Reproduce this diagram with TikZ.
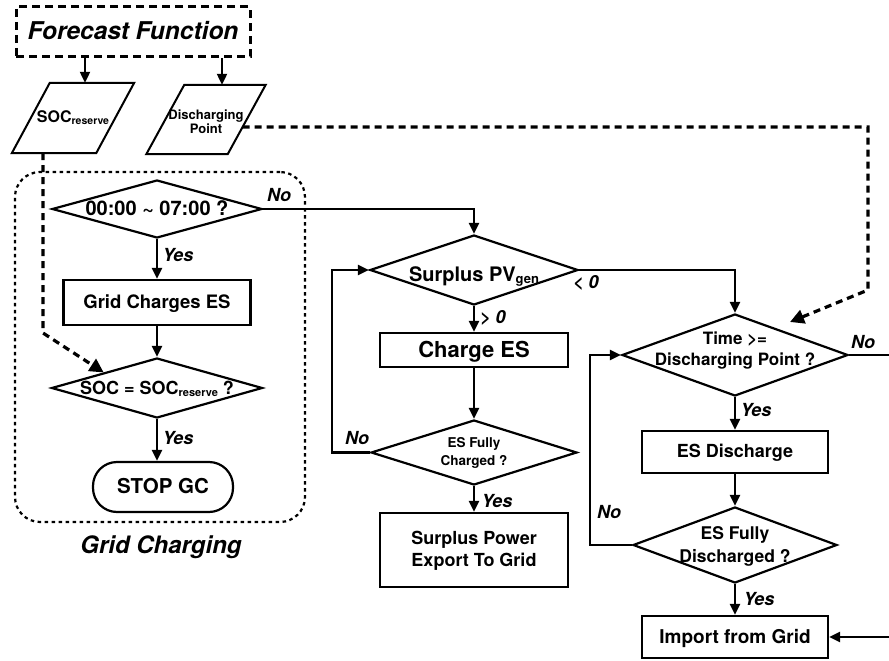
\documentclass[tikz,border=0pt]{standalone}
\usepackage{fontspec}
\setmainfont{TeX Gyre Heros}
\usetikzlibrary{arrows.meta,shapes.geometric,calc}

% centred text of zero size, so that every shape keeps exactly its given size
\newcommand\ctr[2][-0.34em]{\makebox[0pt]{\smash{\raisebox{#1}{\begin{tabular}{@{}c@{}}#2\end{tabular}}}}}
% lowered small index, as in SOC_reserve
\newcommand\lowsub[2][11]{{\fontsize{#1}{#1}\selectfont\raisebox{-2pt}{#2}}}
\newcommand\fs[1]{\fontsize{#1}{#1}\selectfont}

\begin{document}
\begin{tikzpicture}[x=1pt,y=-1pt,
  every node/.style={inner sep=0pt, font=\fontsize{18}{22}\selectfont\bfseries},
  box/.style={draw, rectangle, line width=2.2pt},
  dec/.style={draw, diamond, line width=2.2pt},
  term/.style={draw, rectangle, rounded corners=24pt, line width=2.2pt},
  inout/.style={draw=none, rectangle},
  flow/.style={line width=2.2pt, -{Triangle[length=11pt,width=10pt]}},
  link/.style={line width=2.2pt},
  feed/.style={line width=3.2pt, dash pattern=on 7pt off 5pt, -{Triangle[length=14pt,width=14pt]}},
  lbl/.style={font=\fontsize{18}{18}\selectfont\bfseries\itshape},
]
\useasboundingbox (0,0) rectangle (889,661);

% ---------- grid charging group ----------
\node[draw, rounded corners=25pt, dash pattern=on 3.5pt off 3.5pt, line width=2.2pt,
      minimum width=290pt, minimum height=350pt] (gcz) at (160,347) {};
\node[font=\fs{24}\bfseries\itshape] (gclbl) at (161,547) {Grid Charging};

% ---------- forecast ----------
\node[box, minimum width=234pt, minimum height=50pt, dash pattern=on 8pt off 5pt,
      line width=3pt, font=\fs{24.5}\bfseries\itshape] (fc) at (133,32) {\ctr{Forecast Function}};

\node[inout, minimum width=84pt, minimum height=70pt, font=\fs{16}\bfseries] (socr) at (73,118)
  {\ctr{SOC\lowsub[10.5]{reserve}}};
\draw[line width=2pt] ([xshift=19pt]socr.north west) -- ([xshift=19pt]socr.north east)
  -- ([xshift=-19pt]socr.south east) -- ([xshift=-19pt]socr.south west) -- cycle;

\node[inout, minimum width=81pt, minimum height=69pt, font=\fontsize{13}{14}\selectfont\bfseries] (dp) at (206,119.5)
  {\ctr[-0.55em]{Discharging\\Point}};
\draw[line width=2pt] ([xshift=19pt]dp.north west) -- ([xshift=19pt]dp.north east)
  -- ([xshift=-19pt]dp.south east) -- ([xshift=-19pt]dp.south west) -- cycle;

% ---------- left column ----------
\node[dec, minimum width=210pt, minimum height=58pt, font=\fs{20}\bfseries] (d1) at (157,209)
  {\ctr{00:00 \textasciitilde{} 07:00 ?}};
\node[box, minimum width=187pt, minimum height=45pt, font=\fs{18.5}\bfseries] (b1) at (157,302.5) {\ctr{Grid Charges ES}};
\node[dec, minimum width=211pt, minimum height=60pt] (d2) at (157,388)
  {\ctr{SOC = SOC\lowsub{reserve} ?}};
\node[term, minimum width=140pt, minimum height=50pt, font=\fs{20.5}\bfseries] (stop) at (163,487) {\ctr{STOP GC}};

% ---------- middle column ----------
\node[dec, minimum width=208pt, minimum height=70pt, font=\fs{20}\bfseries] (d3) at (474,270)
  {\ctr[-0.6em]{Surplus PV\lowsub[13]{gen}}};
\node[box, minimum width=188pt, minimum height=34pt, font=\fs{22}\bfseries] (b2) at (474,350) {\ctr{Charge ES}};
\node[dec, minimum width=206pt, minimum height=65pt, font=\fontsize{13.5}{18}\selectfont\bfseries] (d4) at (474,452.5)
  {\ctr[-0.3em]{ES Fully\\Charged ?}};
\node[box, minimum width=188pt, minimum height=74pt] (b3) at (474,550)
  {\ctr[-0.3em]{Surplus Power\\Export To Grid}};

% ---------- right column ----------
\node[dec, minimum width=226pt, minimum height=82pt, font=\fontsize{17}{21}\selectfont\bfseries] (d5) at (735,355)
  {\ctr[-0.02em]{Time >=\\Discharging Point ?}};
\node[box, minimum width=186pt, minimum height=42pt, font=\fs{18}\bfseries] (b4) at (735,452) {\ctr{ES Discharge}};
\node[dec, minimum width=204pt, minimum height=76pt, font=\fontsize{17.5}{23}\selectfont\bfseries] (d6) at (735,545)
  {\ctr[-0.3em]{ES Fully\\Discharged ?}};
\node[box, minimum width=186pt, minimum height=42pt, font=\fs{19}\bfseries] (b5) at (735,637) {\ctr{Import from Grid}};

% ---------- bend points and free ends ----------
\coordinate (sbend) at (43,333);
\coordinate (dpc1) at (868,127);
\coordinate (dpc2) at (868,290);
\coordinate (dptip) at (790,322);
\coordinate (lp1) at (332,452.5);
\coordinate (lp2) at (590,545);
\coordinate (nout) at (889,355);
\coordinate (gin) at (889,637);

% ---------- connectors ----------
\draw[flow] ([xshift=-48pt]fc.south) -- ([xshift=-48pt]fc.south |- socr.north);
\draw[flow] ([xshift=89pt]fc.south) -- ([xshift=89pt]fc.south |- dp.north);
\draw[feed] ([xshift=-30pt]socr.south) -- (sbend) -- (d2.north west);
\draw[feed] ([xshift=-4pt,yshift=-7.5pt]dp.east) -- (dpc1) -- (dpc2) -- (dptip);

\draw[flow] (d1.south) -- (b1.north);
\draw[flow] (d1.east) -| (d3.north);
\draw[flow] (b1.south) -- (d2.north);
\draw[flow] (d2.south) -- (d2.south |- stop.north);

\draw[flow] (d3.south) -- (b2.north);
\draw[flow] (d3.east) -| (d5.north);
\draw[flow] (b2.south) -- (d4.north);
\draw[flow] (d4.south) -- (b3.north);
\draw[flow] (d4.west) -- (lp1) |- (d3.west);

\draw[flow] (d5.south) -- (b4.north);
\draw[flow] (b4.south) -- (d6.north);
\draw[flow] (d6.south) -- (b5.north);
\draw[flow] (d6.west) -- (lp2) |- (d5.west);
\draw[link] (d5.east) -- (nout);
\draw[flow] (gin) -- (b5.east);

% ---------- branch labels ----------
\node[lbl] (y1) at (178,255) {Yes};
\node[lbl] (n1) at (279,195) {No};
\node[lbl] (y2) at (178,438) {Yes};
\node[lbl] (gt) at (493,318) {> 0};
\node[lbl] (lt) at (586,283) {< 0};
\node[lbl] (n2) at (357,438) {No};
\node[lbl] (y3) at (497,501) {Yes};
\node[lbl] (y4) at (756,410) {Yes};
\node[lbl] (n3) at (863,342) {No};
\node[lbl] (n4) at (609,512) {No};
\node[lbl] (y5) at (759,599) {Yes};
\end{tikzpicture}
\end{document}
